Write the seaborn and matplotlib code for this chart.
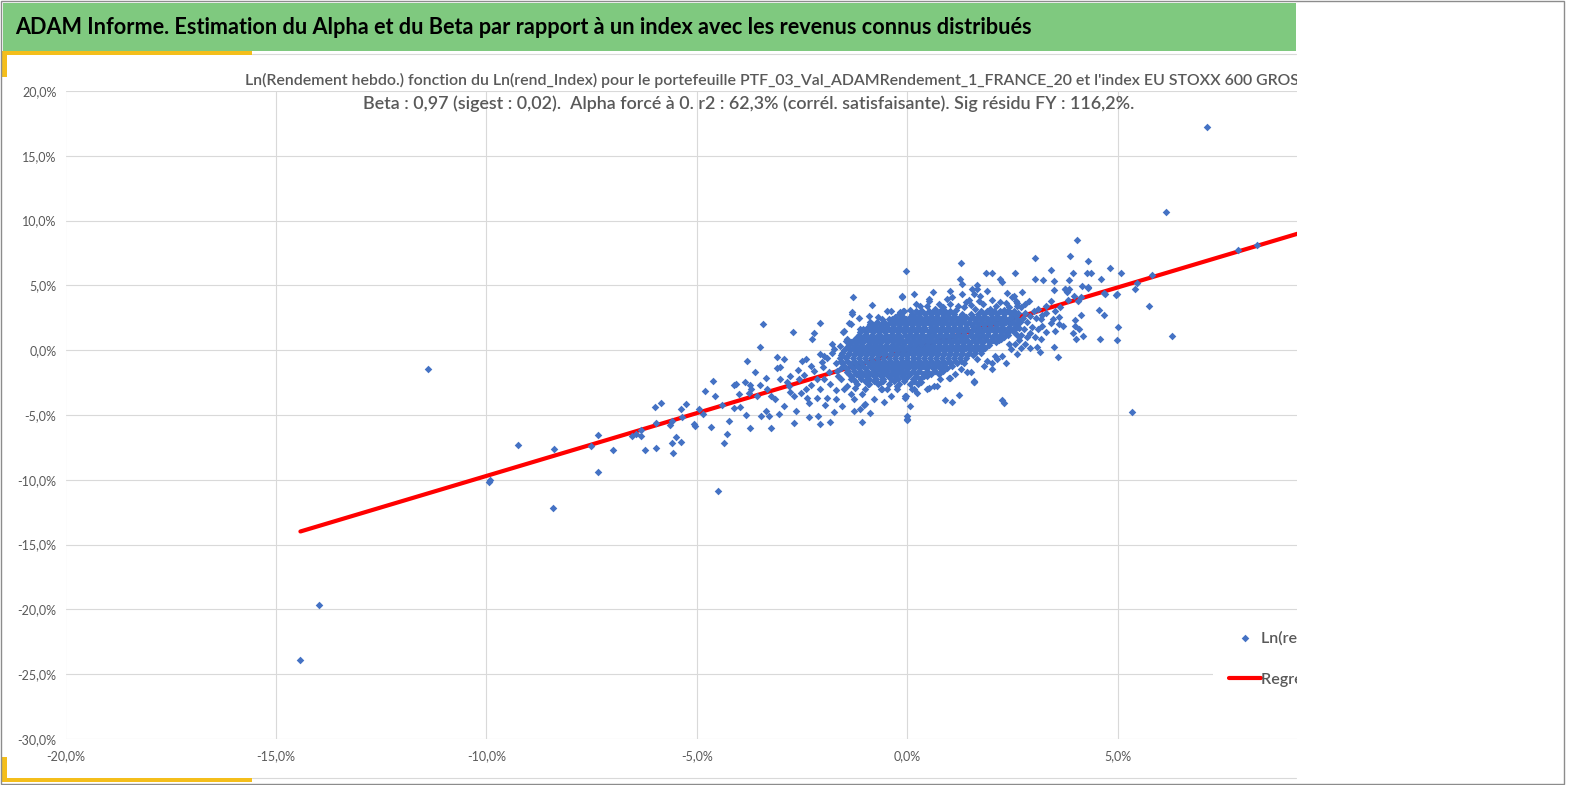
import numpy as np
import pandas as pd
import matplotlib
matplotlib.use('Agg')
import matplotlib.pyplot as plt
import seaborn as sns
from matplotlib.patches import Rectangle
from matplotlib.lines import Line2D
from matplotlib.ticker import FuncFormatter, MultipleLocator

W, H = 1569, 785

# Textes
titre = ("ADAM Informe. Estimation du Alpha et du Beta par rapport à un index "
         "avec les revenus connus distribués")
sous_titre_1 = ("Ln(Rendement hebdo.) fonction du Ln(rend_Index) pour le portefeuille "
                "PTF_03_Val_ADAMRendement_1_FRANCE_20 et l'index EU STOXX 600 GROSS RETURN")
sous_titre_2 = ("Beta : 0,97 (sigest : 0,02).  Alpha forcé à 0. r2 : 62,3% "
                "(corrél. satisfaisante). Sig résidu FY : 116,2%.")
serie_pts = "Ln(rendement hebdo.)"
serie_reg = "Regression linéaire"

beta = 0.97

# Points (x = Ln(rend_Index) en %, y = Ln(Rendement hebdo.) en %)
points_extremes = [
    (-11.38, -1.47), (-13.97, -19.65), (-14.42, -23.9), (-8.43, -12.2), (-4.49, -10.9),
    (7.12, 17.26), (6.13, 10.67), (6.28, 1.06), (5.34, -4.76), (7.86, 7.72), (8.29, 8.08),
    (4.02, 8.51), (-0.03, 6.12), (-0.01, -5.32), (1.28, 6.71), (-0.02, -5.38),
]

bande_gauche = [
    (-9.94, -10.2), (-9.92, -10.05), (-9.25, -7.3), (-8.39, -7.6), (-7.36, -6.53),
    (-7.34, -9.39), (-7.51, -7.38), (-6.99, -7.69), (-6.54, -6.61), (-6.46, -6.48),
    (-6.33, -6.61), (-6.32, -6.15), (-6.23, -7.69), (-5.99, -4.37), (-5.85, -4.07),
    (-5.97, -5.63), (-5.97, -7.54), (-5.65, -5.76), (-5.59, -5.45), (-5.60, -7.15),
    (-5.57, -7.90), (-5.49, -6.69), (-5.38, -4.53), (-5.27, -4.14), (-5.37, -7.07),
    (-5.36, -5.17), (-5.06, -5.66), (-5.04, -5.84), (-4.96, -4.53), (-4.86, -4.91),
    (-4.80, -3.11), (-4.67, -5.92), (-4.62, -2.34), (-4.57, -3.52), (-4.41, -4.24),
    (-4.36, -7.15), (-4.28, -6.46), (-4.24, -5.45), (-4.12, -4.45), (-4.11, -2.70),
    (-4.07, -2.60), (-4.01, -3.40), (-3.99, -4.42),
    (-3.86, -2.45), (-3.84, -5.02), (-3.82, -0.87), (-3.74, -5.97), (-3.74, -2.70),
    (-3.71, -3.01), (-3.77, -3.27), (-3.63, -1.67), (-3.57, -3.52), (-3.51, -2.70),
    (-3.51, 0.25), (-3.44, 2.0), (-3.49, -5.07), (-3.37, -4.68), (-3.29, -5.07),
    (-3.25, -5.97), (-3.37, -2.11), (-3.33, -3.01), (-3.25, -3.52), (-3.11, -0.49),
    (-3.10, -1.34), (-3.02, -1.26), (-2.94, -0.69), (-3.06, -4.94), (-3.14, -3.78),
    (-3.02, -2.24), (-2.94, -4.30), (-2.86, -2.49), (-2.78, -1.98), (-2.82, -2.75),
    (-2.70, -3.52), (-2.66, -4.68), (-2.72, 1.41), (-2.70, -5.58), (-2.58, -2.24),
    (-2.50, -0.82), (-2.42, -0.69), (-2.45, -1.90), (-2.54, -3.27), (-2.42, -3.01),
    (-2.38, -3.65), (-2.34, -4.04), (-2.34, -5.19), (-2.26, 0.90), (-2.21, 1.31),
    (-2.30, -1.21), (-2.22, -1.60), (-2.14, -2.24), (-2.13, -5.07), (-2.07, -5.71),
    (-2.16, -3.65), (-2.07, 2.08), (-2.07, -0.31), (-2.03, -0.90), (-1.99, -0.44),
    (-1.91, -0.57), (-2.07, -3.01), (-1.99, -2.24), (-1.91, -3.65), (-1.87, -1.72),
    (-1.83, -5.53), (-1.75, -4.76), (-1.79, 0.46), (-1.75, 0.08), (-1.71, -0.95),
    (-1.67, -1.60), (-1.53, 1.44), (-1.47, 0.72), (-1.43, 0.85), (-1.39, 2.08),
    (-1.31, 2.91), (-1.30, 4.14), (-1.59, -2.24), (-1.51, -3.01), (-1.43, -2.75),
    (-1.35, -3.40), (-1.28, -3.78), (-1.08, -3.40), (-1.08, -5.53), (-1.12, -4.55),
    (-1.00, -4.17), (-0.88, -4.81), (-1.28, -4.68), (-1.04, -4.24), (-1.24, -2.88),
    (-0.92, -2.62), (-1.47, -0.56), (-1.59, -1.34), (-1.43, -1.72), (-1.35, -2.24),
    (-1.51, 1.49), (-1.31, 2.78), (-1.35, 2.01), (-1.16, 2.45),
    (-2.00, -1.30), (-1.85, -2.60), (-1.70, -3.10), (-1.65, -2.00), (-1.80, -0.20),
    (-1.60, 0.30), (-2.30, -2.70), (-2.60, -1.50), (-2.80, -3.20), (-1.95, -4.20),
    (-1.70, -3.80), (-1.55, -4.30),
]

bande_centre = [
    (-0.84, 3.47), (-0.92, 2.65), (-1.12, 1.62), (-0.96, 1.10), (-0.84, 2.01),
    (-0.64, -2.49), (-0.48, -3.01), (-0.40, -3.52), (-0.24, -2.75), (-0.05, -3.52),
    (0.07, -4.30), (0.23, -3.27), (0.47, -3.01), (-0.48, 3.03), (-0.36, 2.39),
    (-0.17, 2.91), (-0.13, 4.19), (0.15, 4.32), (0.31, 3.03), (0.47, 3.42),
    (0.51, 3.94), (0.47, 2.14), (-0.14, 4.14), (0.07, 3.11), (-0.09, 3.03),
    (0.51, 3.81), (0.74, 3.55), (0.94, 3.94), (1.06, 4.07), (1.38, 3.73),
    (1.57, 4.32), (1.73, 4.19), (-0.55, -3.99), (-0.80, -3.78), (-0.03, -3.57),
    (0.51, -2.88), (0.71, -2.75), (1.02, -2.11), (1.14, -1.85), (1.57, -2.45),
    (-0.64, -3.01), (0.89, -3.83), (1.06, -3.99), (1.22, -3.47), (1.58, -2.49),
    (1.50, -1.72), (0.98, -2.11), (0.78, -2.24), (0.62, -2.75), (0.15, -3.01),
    (-0.05, -3.65), (-0.01, -5.07), (0.31, -2.49), (0.47, -1.98), (0.62, -1.34),
    (1.87, 5.92), (2.01, 5.92), (2.55, 5.92), (2.19, 5.48), (2.25, 5.27),
    (1.24, 5.53), (1.30, 5.09), (1.64, 5.02), (1.66, 4.71), (1.54, 4.76),
    (1.89, 4.58), (2.37, 4.45), (2.49, 4.07), (2.61, 3.68), (2.53, 4.19),
    (2.61, 3.42), (2.33, 3.68), (2.01, 2.14), (2.13, 2.01), (2.29, 2.26),
    (2.45, 2.52), (2.57, 2.65), (2.37, 1.36), (2.21, 0.85), (2.41, 0.46),
    (2.45, 0.08), (2.25, -0.44), (2.13, -0.69), (1.89, -0.82), (1.81, -1.21),
    (2.01, -1.47), (1.66, -0.69), (1.42, -1.72), (1.57, -2.37), (1.26, -1.47),
    (2.01, -0.95), (2.09, -0.44), (2.34, -0.95), (2.25, -3.83), (2.29, -4.04),
    (1.20, 3.40), (1.50, 3.50), (1.80, 3.60), (2.10, 3.40), (2.30, 3.10),
    (1.00, 4.60), (0.60, 4.50), (2.00, 3.90), (1.30, 4.30),
    (0.30, 3.40), (0.65, 3.20), (0.85, 3.30), (1.00, 3.60), (1.15, 3.10),
    (1.35, 3.30), (1.60, 3.20), (1.70, 3.80), (1.95, 3.20), (2.20, 3.70),
    (2.40, 3.30), (1.45, 3.90), (0.20, 3.60), (2.45, 2.90),
]

bande_droite = [
    (3.04, 7.15), (3.86, 7.23), (4.28, 6.89), (4.81, 6.35), (3.42, 6.15),
    (3.93, 5.99), (4.27, 5.99), (4.36, 5.92), (5.06, 5.92), (3.04, 5.48),
    (3.22, 5.42), (3.49, 5.35), (3.84, 5.42), (4.60, 5.50), (3.48, 4.65),
    (3.73, 4.76), (3.79, 4.50), (3.95, 4.19), (4.15, 4.92), (4.29, 4.81),
    (4.66, 4.45), (4.98, 4.32), (5.40, 4.76), (5.46, 5.17), (5.73, 3.42),
    (4.56, 3.11), (4.66, 2.70), (3.97, 2.34), (4.13, 2.75), (3.99, 1.87),
    (4.07, 1.67), (3.93, 1.33), (4.17, 1.10), (4.01, 0.87), (4.58, 0.90),
    (4.99, 1.77), (4.98, 0.75), (3.16, 2.39), (3.20, 1.87), (3.04, 0.98),
    (3.16, 0.85), (3.08, 0.21), (3.14, -0.13), (3.57, -0.49), (3.49, 0.28),
    (2.80, 0.46), (2.90, 1.29), (2.76, 1.62), (2.68, 2.14), (2.92, 2.65),
    (3.00, 3.03), (2.88, 3.81), (2.71, 4.50), (2.57, 3.81), (5.81, 5.81),
    (3.75, 4.71), (3.83, 4.76), (4.28, 4.84), (4.11, 4.14), (4.05, 3.83),
    (3.81, 3.88), (3.62, 3.37), (3.40, 3.81), (4.68, 4.37), (4.96, 4.27),
    (2.60, 2.00), (2.70, 1.20), (2.80, 2.90), (2.55, 1.60), (2.65, 0.80),
    (2.90, 0.20), (3.30, 1.40), (3.40, 2.10), (3.30, 2.90), (3.60, 2.60),
    (3.70, 1.90), (3.50, 1.50), (3.30, 3.40),
    (2.62, 2.90), (2.70, 3.30), (2.75, 2.50), (2.85, 2.20), (2.95, 1.80),
    (3.05, 2.50), (2.60, 1.20), (2.70, 0.20), (2.85, 1.00), (3.10, 1.60),
    (3.20, 2.70), (3.50, 3.00), (3.45, 2.40), (2.60, 2.40), (2.65, 1.75),
    (2.80, 3.60), (3.10, 3.20), (3.60, 2.00), (2.55, 0.50), (2.60, -0.30),
]

# Noyau dense du nuage, lu par rangées
noyau_y = [3.0, 2.6, 2.2, 1.8, 1.4, 1.0, 0.6, 0.2, -0.2, -0.6, -1.0, -1.4, -1.8, -2.2, -2.6, -3.0]
noyau_x = [
    [-0.4, -0.1, 0.2, 0.35, 0.5, 0.62, 0.78, 0.9, 1.02, 1.75, 1.9, 2.05, 2.2, 2.38, 2.52],
    [-0.7, -0.3, -0.1, 0.05, 0.18, 0.3, 0.45, 0.58, 0.7, 0.85, 0.98, 1.12, 1.25, 1.4, 1.55,
     1.7, 1.85, 2.0, 2.15, 2.3, 2.45],
    [-0.88, -0.72, -0.55, -0.4, -0.25, -0.1, 0.05, 0.2, 0.33, 0.48, 0.6, 0.75, 0.9, 1.03,
     1.18, 1.3, 1.45, 1.6, 1.75, 1.9, 2.05, 2.2, 2.35, 2.5],
    [-0.95, -0.8, -0.65, -0.5, -0.35, -0.2, -0.05, 0.1, 0.25, 0.4, 0.55, 0.68, 0.82, 0.96,
     1.1, 1.25, 1.4, 1.55, 1.68, 1.82, 1.97, 2.1, 2.25, 2.4, 2.55],
    [-1.12, -0.98, -0.83, -0.68, -0.53, -0.38, -0.22, -0.08, 0.06, 0.2, 0.35, 0.5, 0.64,
     0.78, 0.92, 1.06, 1.2, 1.35, 1.5, 1.64, 1.78, 1.92, 2.07, 2.22, 2.38, 2.52],
    [-1.2, -1.05, -0.9, -0.75, -0.6, -0.45, -0.3, -0.15, 0.0, 0.14, 0.28, 0.42, 0.56, 0.7,
     0.84, 0.98, 1.12, 1.26, 1.4, 1.55, 1.7, 1.85, 2.0, 2.15, 2.3],
    [-1.35, -1.2, -1.05, -0.9, -0.76, -0.62, -0.48, -0.34, -0.2, -0.06, 0.08, 0.22, 0.36,
     0.5, 0.64, 0.78, 0.92, 1.06, 1.2, 1.35, 1.5, 1.65, 1.8, 1.95, 2.1],
    [-1.45, -1.3, -1.15, -1.0, -0.86, -0.72, -0.58, -0.44, -0.3, -0.16, -0.02, 0.12, 0.26,
     0.4, 0.54, 0.68, 0.82, 0.96, 1.1, 1.25, 1.4, 1.55, 1.7, 1.85],
    [-1.55, -1.4, -1.25, -1.1, -0.96, -0.82, -0.68, -0.54, -0.4, -0.26, -0.12, 0.02, 0.16,
     0.3, 0.44, 0.58, 0.72, 0.86, 1.0, 1.15, 1.3, 1.45, 1.6, 1.75],
    [-1.6, -1.45, -1.3, -1.15, -1.0, -0.86, -0.72, -0.58, -0.44, -0.3, -0.16, -0.02, 0.12,
     0.26, 0.4, 0.54, 0.68, 0.82, 0.96, 1.1, 1.25, 1.4],
    [-1.55, -1.4, -1.25, -1.1, -0.95, -0.8, -0.66, -0.52, -0.38, -0.24, -0.1, 0.04, 0.18,
     0.32, 0.46, 0.6, 0.74, 0.88, 1.02, 1.18, 1.35],
    [-1.45, -1.3, -1.15, -1.0, -0.85, -0.7, -0.55, -0.4, -0.26, -0.12, 0.02, 0.16, 0.3,
     0.45, 0.6, 0.78, 0.95],
    [-1.4, -1.22, -1.05, -0.88, -0.72, -0.56, -0.4, -0.25, -0.1, 0.05, 0.2, 0.38, 0.55, 0.75],
    [-1.3, -1.1, -0.92, -0.75, -0.58, -0.4, -0.22, -0.05, 0.12, 0.3],
    [-1.2, -0.95, -0.7, -0.45, -0.2, 0.05, 0.25],
    [-1.0, -0.6, -0.25, 0.1],
]

# rangées intermédiaires du noyau
noyau2_y = [2.8, 2.4, 2.0, 1.6, 1.2, 0.8, 0.4, 0.0, -0.4, -0.8, -1.2, -1.6, -2.0, -2.4]
noyau2_x = [
    [-0.2, 0.1, 0.28, 0.42, 0.56, 0.7, 0.84, 0.96, 1.1, 1.3, 1.5, 1.68, 1.82, 1.98, 2.12,
     2.3, 2.45],
    [-0.6, -0.45, -0.3, -0.18, -0.03, 0.12, 0.25, 0.4, 0.52, 0.66, 0.8, 0.92, 1.06, 1.2,
     1.34, 1.48, 1.62, 1.78, 1.92, 2.08, 2.22, 2.4],
    [-0.9, -0.75, -0.6, -0.47, -0.32, -0.17, -0.02, 0.12, 0.27, 0.4, 0.54, 0.68, 0.82,
     0.97, 1.1, 1.24, 1.38, 1.52, 1.67, 1.82, 1.96, 2.12, 2.28, 2.44],
    [-1.05, -0.9, -0.75, -0.6, -0.45, -0.3, -0.15, 0.0, 0.14, 0.28, 0.42, 0.57, 0.71, 0.85,
     0.99, 1.13, 1.28, 1.42, 1.57, 1.71, 1.85, 2.0, 2.14, 2.3, 2.45],
    [-1.15, -1.0, -0.84, -0.68, -0.52, -0.37, -0.22, -0.07, 0.07, 0.21, 0.35, 0.49, 0.63,
     0.77, 0.91, 1.05, 1.19, 1.33, 1.48, 1.62, 1.77, 1.92, 2.07, 2.22, 2.38],
    [-1.28, -1.12, -0.97, -0.82, -0.68, -0.53, -0.4, -0.26, -0.12, 0.01, 0.15, 0.29, 0.43,
     0.57, 0.71, 0.85, 0.99, 1.13, 1.27, 1.42, 1.57, 1.72, 1.88, 2.02, 2.18],
    [-1.4, -1.24, -1.1, -0.95, -0.8, -0.66, -0.52, -0.38, -0.24, -0.1, 0.05, 0.19, 0.33,
     0.47, 0.61, 0.75, 0.89, 1.03, 1.17, 1.32, 1.47, 1.62, 1.78, 1.93],
    [-1.5, -1.36, -1.2, -1.06, -0.92, -0.78, -0.64, -0.5, -0.36, -0.22, -0.08, 0.06, 0.2,
     0.34, 0.48, 0.62, 0.76, 0.9, 1.04, 1.18, 1.33, 1.48, 1.63, 1.78],
    [-1.58, -1.42, -1.28, -1.12, -0.98, -0.84, -0.7, -0.56, -0.42, -0.28, -0.14, 0.0, 0.14,
     0.28, 0.42, 0.56, 0.7, 0.84, 0.98, 1.12, 1.27, 1.42, 1.56],
    [-1.58, -1.43, -1.28, -1.13, -0.98, -0.84, -0.7, -0.56, -0.42, -0.28, -0.14, 0.0, 0.14,
     0.28, 0.42, 0.56, 0.7, 0.84, 0.98, 1.12, 1.28],
    [-1.5, -1.35, -1.2, -1.05, -0.9, -0.75, -0.6, -0.46, -0.32, -0.18, -0.04, 0.1, 0.24,
     0.38, 0.52, 0.68, 0.85, 1.05],
    [-1.42, -1.27, -1.12, -0.96, -0.8, -0.64, -0.48, -0.33, -0.18, -0.03, 0.12, 0.28, 0.46,
     0.65, 0.85],
    [-1.35, -1.15, -0.98, -0.8, -0.63, -0.47, -0.3, -0.14, 0.02, 0.2, 0.4],
    [-1.25, -1.02, -0.8, -0.58, -0.32, -0.08, 0.15],
]

# Droite de régression (alpha forcé à 0)
reg_x = [-14.42, 10.0]

pts = points_extremes + bande_gauche + bande_centre + bande_droite
for y, rangee in zip(noyau_y + noyau2_y, noyau_x + noyau2_x):
    pts += [(x, y) for x in rangee]
df = pd.DataFrame(pts, columns=['x', 'y'])
reg = pd.DataFrame({'x': reg_x, 'y': [beta * v for v in reg_x]})

sns.set_theme(style='white')
plt.rcParams['font.family'] = ['Lato', 'DejaVu Sans']

fig = plt.figure(figsize=(W / 100, H / 100), dpi=100)
fig.patch.set_facecolor('white')


def fx(px):
    return px / W


def fy(py):
    return 1 - py / H


def prect(x0, y0, x1, y1, **kw):
    return Rectangle((fx(x0), fy(y1)), (x1 - x0) / W, (y1 - y0) / H,
                     transform=fig.transFigure, **kw)


# zone de tracé : -20% -> 10% en x, -30% -> 20% en y
ax = fig.add_axes([fx(65.5), fy(739), (1328.5 - 65.5) / W, (739 - 91) / H])
sns.lineplot(data=reg, x='x', y='y', ax=ax, color='#FF0000', linewidth=3,
             label=serie_reg, sort=False, zorder=2)
sns.scatterplot(data=df, x='x', y='y', ax=ax, marker='D', s=15, color='#4472C4',
                linewidth=0, label=serie_pts, zorder=3)

ax.set_xlim(-20, 10)
ax.set_ylim(-30, 20)
ax.xaxis.set_major_locator(MultipleLocator(5))
ax.yaxis.set_major_locator(MultipleLocator(5))
pct = FuncFormatter(lambda v, p: f"{v:.1f}%".replace('.', ','))
ax.xaxis.set_major_formatter(pct)
ax.yaxis.set_major_formatter(pct)
ax.grid(True, color='#D9D9D9', linewidth=0.8)
ax.set_axisbelow(True)
for s in ax.spines.values():
    s.set_visible(False)
ax.tick_params(axis='both', length=0, labelsize=9, labelcolor='#595959')
ax.tick_params(axis='x', pad=8)
ax.tick_params(axis='y', pad=6.5)
ax.set_xlabel('')
ax.set_ylabel('')

handles, labels = ax.get_legend_handles_labels()
leg = ax.legend(handles=[handles[1], handles[0]], labels=[labels[1], labels[0]],
                loc='center left', bbox_to_anchor=(fx(1213), fy(659)),
                bbox_transform=fig.transFigure, frameon=True, fancybox=False,
                edgecolor='none', facecolor='white', framealpha=1, borderpad=1.0,
                handlelength=2.0, handletextpad=0.0, labelspacing=1.7,
                fontsize=11.5, borderaxespad=0)
for t in leg.get_texts():
    t.set_color('#595959')
    t.set_fontweight('semibold')

# bandeau de titre
fig.add_artist(prect(3, 3, 1296, 51, facecolor='#7FC97F', edgecolor='none', zorder=1))
t0 = fig.text(fx(15), fy(27.5), titre, ha='left', va='center', fontsize=17,
              weight='bold', color='black', zorder=4)
t1 = fig.text(fx(245), fy(80), sous_titre_1, ha='left', va='center', fontsize=11,
              weight='semibold', color='#595959', zorder=4)
t2 = fig.text(fx(749), fy(104), sous_titre_2, ha='center', va='center', fontsize=11,
              weight='semibold', color='#595959', zorder=4)
# partie visible de la 1re ligne, coupée dans "GROSS"
t1_vis = fig.text(0, 0, sous_titre_1[:sous_titre_1.index('GROSS') + 3], fontsize=11,
                  weight='semibold')

fig.canvas.draw()
r = fig.canvas.get_renderer()
t0.set_fontsize(t0.get_fontsize() * 1013 / t0.get_window_extent(r).width)
f2 = t2.get_fontsize() * 768 / t2.get_window_extent(r).width
f1 = t1.get_fontsize() * (1290 - 245) / t1_vis.get_window_extent(r).width
t2.set_fontsize(f2)
t1.set_fontsize(f1)
t1_vis.remove()

# le graphique est coupé à droite
fig.add_artist(prect(1296.5, 2, 1562.5, 782.5, facecolor='white', edgecolor='none', zorder=10))

# bordures
gris = '#D9D9D9'
fig.add_artist(Line2D([fx(252), fx(1296)], [fy(53.5), fy(53.5)], color=gris, lw=0.8,
                      transform=fig.transFigure, zorder=11))
fig.add_artist(Line2D([fx(252), fx(1296)], [fy(777.5), fy(777.5)], color=gris, lw=0.8,
                      transform=fig.transFigure, zorder=11))
jaune = '#F4BE1B'
fig.add_artist(prect(0.5, 51, 252, 54.5, facecolor=jaune, edgecolor='none', zorder=11))
fig.add_artist(prect(2, 51, 7, 77, facecolor=jaune, edgecolor='none', zorder=11))
fig.add_artist(prect(2, 757, 7, 782, facecolor=jaune, edgecolor='none', zorder=11))
fig.add_artist(prect(0.5, 777.5, 252, 782, facecolor=jaune, edgecolor='none', zorder=11))
fig.add_artist(prect(0.5, 0.5, 1563.5, 783.5, facecolor='none', edgecolor='#8C8C8C',
                     lw=1, zorder=12))

fig.savefig('out.png', dpi=100)
